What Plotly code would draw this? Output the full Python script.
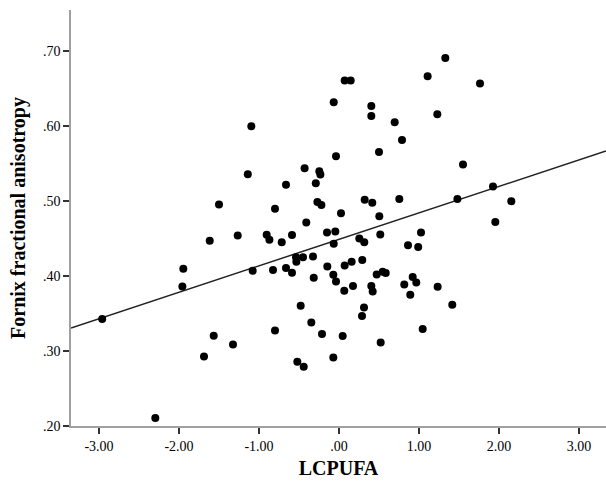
import plotly.graph_objects as go
import numpy as np

lcpufa = [-0.066, -1.096, -0.0375, -1.14, -0.43, -0.246, -0.233, -0.6625, -0.29, -1.50,
          -0.80, -0.27, -0.22, 0.025, -1.616, -1.266, -0.904, -0.87, -0.716, -0.5875,
          -0.409, -0.15, -0.046, -0.066, -1.946, -1.958, -1.079, -0.825, -0.6625, -0.5875,
          -0.5375, -0.45, -0.533, -0.325, -0.316, -0.146, -0.071, -0.0375, -2.96, -0.479,
          -0.346, -0.80, -0.2125, -1.566, -1.325, -1.6875, -0.521, -0.441, -0.071, -2.296,
          1.329, 0.071, 0.146, 1.108, 1.7625, 0.404, 0.404, 0.696, 1.229, 0.7875,
          0.5, 1.55, 1.925, 1.48, 2.154, 0.321, 0.416, 0.754, 0.504, 1.954,
          0.516, 0.254, 0.316, 1.025, 0.8625, 0.99, 0.071, 0.158, 0.291, 0.066,
          0.175, 0.404, 0.421, 0.471, 0.546, 0.584, 0.816, 0.921, 0.966, 0.891,
          1.233, 1.416, 0.3125, 0.2875, 0.046, 0.521, 1.046]
fa = [0.632, 0.600, 0.560, 0.536, 0.544, 0.540, 0.5355, 0.522, 0.524, 0.4955,
      0.490, 0.499, 0.4947, 0.484, 0.447, 0.454, 0.455, 0.4484, 0.4453, 0.4547,
      0.4715, 0.458, 0.4595, 0.443, 0.4097, 0.386, 0.407, 0.408, 0.4107, 0.4044,
      0.4253, 0.4253, 0.419, 0.426, 0.3977, 0.4128, 0.4017, 0.3928, 0.3427, 0.3604,
      0.338, 0.3275, 0.3227, 0.3204, 0.3088, 0.2928, 0.2857, 0.279, 0.2915, 0.2107,
      0.691, 0.661, 0.661, 0.6667, 0.6568, 0.627, 0.6137, 0.6053, 0.616, 0.5817,
      0.5657, 0.549, 0.5195, 0.5027, 0.500, 0.5017, 0.4977, 0.503, 0.480, 0.472,
      0.4555, 0.450, 0.4453, 0.458, 0.4413, 0.4387, 0.414, 0.419, 0.4213, 0.3804,
      0.3867, 0.3867, 0.3795, 0.402, 0.4057, 0.404, 0.3888, 0.3987, 0.3915, 0.375,
      0.3857, 0.3617, 0.358, 0.3467, 0.320, 0.3115, 0.3293]

fit_intercept = 0.449
fit_slope = 0.0353

x_tick_vals = [-3, -2, -1, 0, 1, 2, 3]
x_tick_text = ["-3.00", "-2.00", "-1.00", ".00", "1.00", "2.00", "3.00"]
y_tick_vals = [0.2, 0.3, 0.4, 0.5, 0.6, 0.7]
y_tick_text = [".20", ".30", ".40", ".50", ".60", ".70"]

x_range = [-3.35, 3.3375]
y_range = [0.2, 0.755]

fit_x = np.array(x_range)
fit_y = fit_intercept + fit_slope * fit_x

font = "Liberation Serif, Times New Roman, serif"

fig = go.Figure()
fig.add_trace(go.Scatter(x=fit_x, y=fit_y, mode="lines",
                         line=dict(color="#222222", width=1.5), hoverinfo="skip"))
fig.add_trace(go.Scatter(x=lcpufa, y=fa, mode="markers",
                         marker=dict(color="black", size=8, line=dict(width=0))))

fig.update_layout(
    width=606, height=481,
    margin=dict(l=71, r=0, t=10, b=55),
    paper_bgcolor="white", plot_bgcolor="white",
    showlegend=False,
    font=dict(family=font, color="black", size=14),
)
fig.update_xaxes(
    range=x_range, tickvals=x_tick_vals, ticktext=x_tick_text, automargin=False,
    showgrid=False, zeroline=False, showline=True, linecolor="#a0a0a0", linewidth=1.5,
    ticks="outside", ticklen=6, tickcolor="#333333", tickwidth=1.5,
    tickfont=dict(family=font, size=14, color="black"),
    title=dict(text="<b>LCPUFA</b>", font=dict(family=font, size=20, color="black"), standoff=8),
)
fig.update_yaxes(
    range=y_range, tickvals=y_tick_vals, ticktext=y_tick_text, automargin=False,
    showgrid=False, zeroline=False, showline=True, linecolor="#a0a0a0", linewidth=1.5,
    ticks="outside", ticklen=6, tickcolor="#333333", tickwidth=1.5,
    tickfont=dict(family=font, size=14, color="black"),
    title=dict(text="<b>Fornix fractional anisotropy</b>", font=dict(family=font, size=20, color="black"), standoff=12),
)

fig.write_html("out.html", config={"displayModeBar": False},
               post_script="document.body.style.margin='0px';")
